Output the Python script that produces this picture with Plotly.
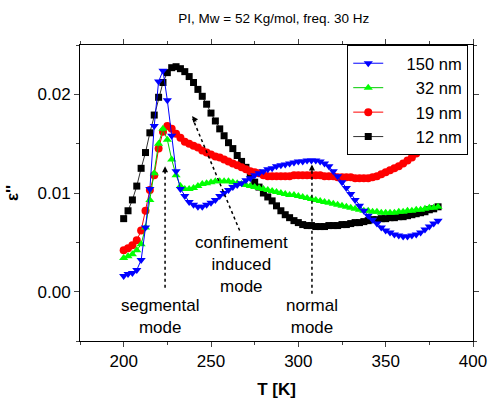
import plotly.graph_objects as go

# Temperature grid (K)
temperature = [200, 202.5, 205, 207.5, 210, 212.5, 215, 217.5, 220, 222.5,
               225, 227.5, 230, 232.5, 235, 237.5, 240, 242.5, 245, 247.5,
               250, 252.5, 255, 257.5, 260, 262.5, 265, 267.5, 270, 272.5,
               275, 277.5, 280, 282.5, 285, 287.5, 290, 292.5, 295, 297.5,
               300, 302.5, 305, 307.5, 310, 312.5, 315, 317.5, 320, 322.5,
               325, 327.5, 330, 332.5, 335, 337.5, 340, 342.5, 345, 347.5,
               350, 352.5, 355, 357.5, 360, 362.5, 365, 367.5, 370, 372.5,
               375, 377.5, 380]

eps_12nm = [0.0074, 0.0082, 0.0093, 0.0107, 0.0125, 0.0141, 0.0161, 0.0179, 0.0197, 0.0212,
            0.0222, 0.0227, 0.0228, 0.0226, 0.0223, 0.0218, 0.0212, 0.0205, 0.0198, 0.0190,
            0.0181, 0.0173, 0.0165, 0.0158, 0.0151, 0.0145, 0.0138, 0.0132, 0.0126, 0.0118,
            0.0111, 0.0106, 0.0100, 0.0096, 0.0092, 0.0087, 0.0082, 0.0078, 0.0075, 0.0072,
            0.0070, 0.0068, 0.0067, 0.0067, 0.0066, 0.0066, 0.0066, 0.0067, 0.0067, 0.0067,
            0.0068, 0.0068, 0.0069, 0.0070, 0.0070, 0.0071, 0.0072, 0.0073, 0.0073, 0.0074,
            0.0074, 0.0075, 0.0075, 0.0076, 0.0076, 0.0077, 0.0078, 0.0079, 0.0080, 0.0081,
            0.0083, 0.0084, 0.0086]

eps_19nm = [0.0042, 0.0044, 0.0047, 0.0052, 0.0062, 0.0082, 0.0103, 0.0118, 0.0145, 0.0162,
            0.0168, 0.0165, 0.0160, 0.0156, 0.0152, 0.0150, 0.0148, 0.0146, 0.0143, 0.0141,
            0.0139, 0.0137, 0.0136, 0.0134, 0.0132, 0.0130, 0.0128, 0.0126, 0.0124, 0.0122,
            0.0121, 0.0120, 0.0118, 0.0117, 0.0117, 0.0117, 0.0117, 0.0117, 0.0117, 0.0118,
            0.0118, 0.0118, 0.0118, 0.0118, 0.0118, 0.0118, 0.0117, 0.0117, 0.0117, 0.0116,
            0.0116, 0.0116, 0.0116, 0.0115, 0.0115, 0.0115, 0.0115, 0.0116, 0.0117, 0.0119,
            0.0121, 0.0123, 0.0125, 0.0127, 0.0130, 0.0133, 0.0136, 0.0140, 0.0144, 0.0148,
            0.0152, 0.0157, 0.0162]

eps_32nm = [0.0034, 0.0036, 0.0038, 0.0042, 0.0048, 0.0065, 0.0093, 0.0120, 0.0150, 0.0165,
            0.0154, 0.0134, 0.0118, 0.0107, 0.0104, 0.0104, 0.0105, 0.0107, 0.0109, 0.0110,
            0.0111, 0.0112, 0.0112, 0.0112, 0.0112, 0.0111, 0.0110, 0.0109, 0.0108, 0.0107,
            0.0106, 0.0105, 0.0104, 0.0103, 0.0102, 0.0101, 0.0100, 0.0099, 0.0098, 0.0098,
            0.0097, 0.0096, 0.0095, 0.0094, 0.0093, 0.0092, 0.0091, 0.0090, 0.0089, 0.0088,
            0.0087, 0.0086, 0.0085, 0.0084, 0.0083, 0.0082, 0.0082, 0.0081, 0.0081, 0.0080,
            0.0080, 0.0080, 0.0080, 0.0081, 0.0081, 0.0082, 0.0082, 0.0083, 0.0083, 0.0084,
            0.0085, 0.0085, 0.0086]

eps_150nm = [0.0016, 0.0018, 0.0019, 0.0022, 0.0032, 0.0065, 0.0104, 0.0168, 0.0213, 0.0224,
             0.0194, 0.0158, 0.0122, 0.0104, 0.0097, 0.0091, 0.0088, 0.0086, 0.0086, 0.0088,
             0.0090, 0.0093, 0.0097, 0.0100, 0.0103, 0.0106, 0.0108, 0.0110, 0.0113, 0.0115,
             0.0118, 0.0120, 0.0122, 0.0124, 0.0125, 0.0127, 0.0128, 0.0129, 0.0130, 0.0131,
             0.0132, 0.0132, 0.0133, 0.0133, 0.0133, 0.0132, 0.0130, 0.0127, 0.0122, 0.0117,
             0.0111, 0.0105, 0.0099, 0.0093, 0.0087, 0.0082, 0.0077, 0.0073, 0.0069, 0.0065,
             0.0062, 0.0060, 0.0058, 0.0057, 0.0056, 0.0056, 0.0057, 0.0058, 0.0060, 0.0063,
             0.0066, 0.0069, 0.0072]

series_names = ["\u2007\u2007150 nm", "\u2007\u2007\u200732 nm",
                "\u2007\u2007\u200719 nm", "\u2007\u2007\u200712 nm"]
x_ticks = [200, 250, 300, 350, 400]
y_ticks = [0.00, 0.01, 0.02]

FONT = "Liberation Sans, Arial, sans-serif"

fig = go.Figure()

def add(y, name, color, line_color, symbol, size, rank):
    fig.add_trace(go.Scatter(
        x=temperature, y=y, name=name, mode="lines+markers",
        line=dict(color=line_color, width=1),
        marker=dict(color=color, symbol=symbol, size=size, line=dict(width=0)),
        legendrank=rank,
    ))

add(eps_12nm, series_names[3], "#000000", "#333333", "square", 7, 4)
add(eps_19nm, series_names[2], "#ff0000", "#ff0000", "circle", 8, 3)
add(eps_32nm, series_names[1], "#00ff00", "#00cc00", "triangle-up", 8, 2)
add(eps_150nm, series_names[0], "#0000ff", "#0000ff", "triangle-down", 8, 1)

# dotted guide lines
guides = [
    (223.7, 0.0004, 223.7, 0.0125),
    (307.8, -0.0002, 307.8, 0.0127),
    (266.4, 0.0062, 239.6, 0.0175),
]
for x0, y0, x1, y1 in guides:
    fig.add_shape(type="line", x0=x0, y0=y0, x1=x1, y1=y1, xref="x", yref="y",
                  line=dict(color="black", width=1.5, dash="dot"))

# arrowheads
heads = [(223.7, 0.0127, 0, 8), (307.8, 0.0129, 0, 8), (239.2, 0.0178, 5, 7)]
for hx, hy, ax, ay in heads:
    fig.add_annotation(x=hx, y=hy, ax=ax, ay=ay, xref="x", yref="y",
                       text="", showarrow=True, arrowhead=2, arrowsize=1.2,
                       arrowwidth=1, arrowcolor="black")

labels = [
    (220.9, -0.0025, "segmental<br>mode"),
    (307.8, -0.0025, "normal<br>mode"),
    (267.7, 0.0028, "confinement<br>induced<br>mode"),
]
for lx, ly, txt in labels:
    fig.add_annotation(x=lx, y=ly, xref="x", yref="y", text=txt, showarrow=False,
                       font=dict(family=FONT, size=17, color="black"),
                       xanchor="center", yanchor="middle", align="center")

fig.update_layout(
    width=488, height=400,
    margin=dict(l=80, r=15, t=45, b=59, autoexpand=False),
    paper_bgcolor="white", plot_bgcolor="white",
    font=dict(family=FONT, color="black"),
    title=dict(text="PI, Mw = 52 Kg/mol, freq. 30 Hz", x=0.561, xanchor="center",
               y=0.955, yanchor="middle", font=dict(size=13.5, family=FONT)),
    legend=dict(x=0.68, y=1.0, xanchor="left", yanchor="top",
                bgcolor="white", bordercolor="black", borderwidth=1,
                font=dict(size=16.5, family=FONT), traceorder="normal",
                itemwidth=30),
    showlegend=True,
)

fig.update_xaxes(
    range=[175, 400], tickvals=x_ticks, ticks="outside", ticklen=5,
    showline=True, linecolor="black", linewidth=1, mirror="allticks",
    showgrid=False, zeroline=False, automargin=False,
    tickfont=dict(size=17, family=FONT),
    minor=dict(dtick=25, tick0=175, ticks="outside", ticklen=3, showgrid=False),
    title=dict(text="<b>T [K]</b>", font=dict(size=17, family=FONT), standoff=12),
)
fig.update_yaxes(
    range=[-0.005, 0.025], tickvals=y_ticks, tickformat=".2f", ticks="outside", ticklen=5,
    showline=True, linecolor="black", linewidth=1, mirror="allticks",
    showgrid=False, zeroline=False, automargin=False,
    tickfont=dict(size=17, family=FONT),
    minor=dict(dtick=0.005, tick0=0, ticks="outside", ticklen=3, showgrid=False),
    title=dict(text="<b>ε''</b>", font=dict(size=17, family=FONT), standoff=14),
)

fig.write_html("out.html")
